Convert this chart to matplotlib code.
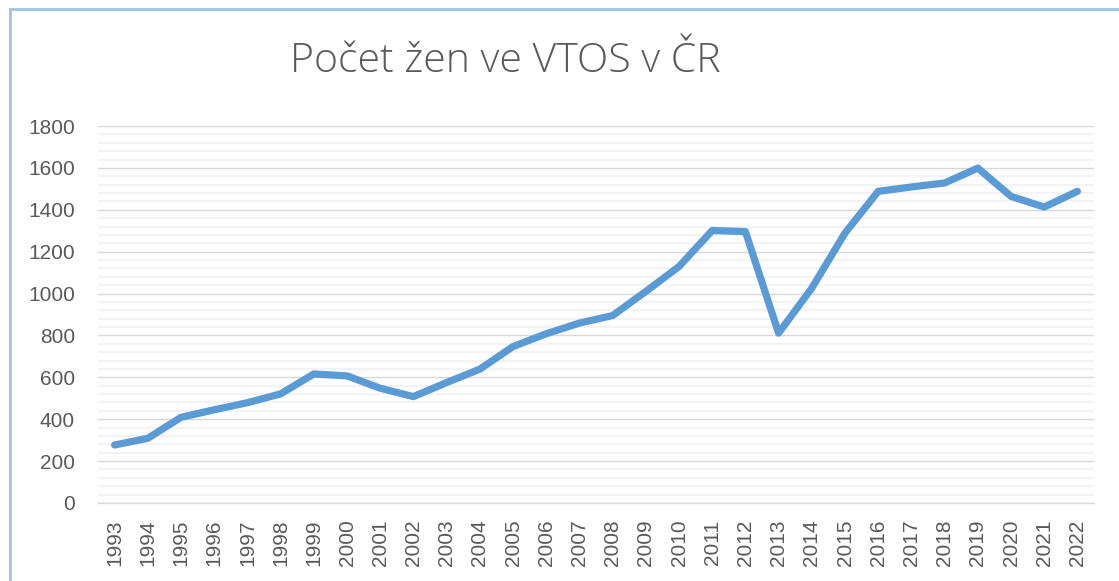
"""Line chart of the number of women in VTOS in the Czech Republic, 1993-2022."""

import matplotlib

matplotlib.use("Agg")
import matplotlib.pyplot as plt
import numpy as np
from matplotlib.lines import Line2D
from matplotlib.ticker import MultipleLocator

years = [str(y) for y in range(1993, 2023)]
women = [
    277, 309, 409, 445, 479, 521, 616, 607, 548, 508,
    575, 639, 747, 808, 859, 895, 1010, 1129, 1301, 1296,
    811, 1026, 1289, 1488, 1509, 1528, 1599, 1464, 1413, 1488,
]
title = "Počet žen ve VTOS v ČR"

W, H = 1119, 581
TEXT = "#595959"

fig = plt.figure(figsize=(W / 100, H / 100), dpi=100)
ax = fig.add_axes([98 / W, 1 - 503 / H, (1094 - 98) / W, (503 - 126) / H])

x = np.arange(len(years))
ax.plot(x, women, color="#5B9BD5", lw=5.2,
        solid_capstyle="round", solid_joinstyle="round", zorder=3)

ax.set_xlim(-0.5, len(years) - 0.5)
ax.set_ylim(0, 1800)
ax.yaxis.set_major_locator(MultipleLocator(200))
ax.yaxis.set_minor_locator(MultipleLocator(40))
ax.grid(which="major", axis="y", color="#D9D9D9", lw=1.0)
ax.grid(which="minor", axis="y", color="#F2F2F2", lw=1.3)
ax.set_axisbelow(True)

ax.set_xticks(x)
ax.set_xticklabels(years, rotation=90, fontsize=15, color=TEXT,
                   family="Liberation Sans")
for lab in ax.get_yticklabels():
    lab.set_family("Liberation Sans")
ax.tick_params(axis="y", which="both", length=0, labelsize=15,
               labelcolor=TEXT, pad=16.5)
ax.tick_params(axis="x", length=0, pad=12)

for side in ("top", "right", "left"):
    ax.spines[side].set_visible(False)
ax.spines["bottom"].set_color("#D9D9D9")
ax.spines["bottom"].set_linewidth(1.0)

fig.text(505 / W, 1 - 62 / H, title, ha="center", va="center",
         fontsize=29.5, color=TEXT, family="Open Sans", fontweight="light")

# outer chart frame (cut off at right and bottom in the reference)
frame = dict(color="#9DC3E6", lw=2.0, transform=fig.transFigure)
fig.add_artist(Line2D([9.5 / W, 9.5 / W], [1 - 8.5 / H, 0], **frame))
fig.add_artist(Line2D([9.5 / W, 1], [1 - 8.5 / H, 1 - 8.5 / H], **frame))

fig.savefig("out.png", dpi=100)
